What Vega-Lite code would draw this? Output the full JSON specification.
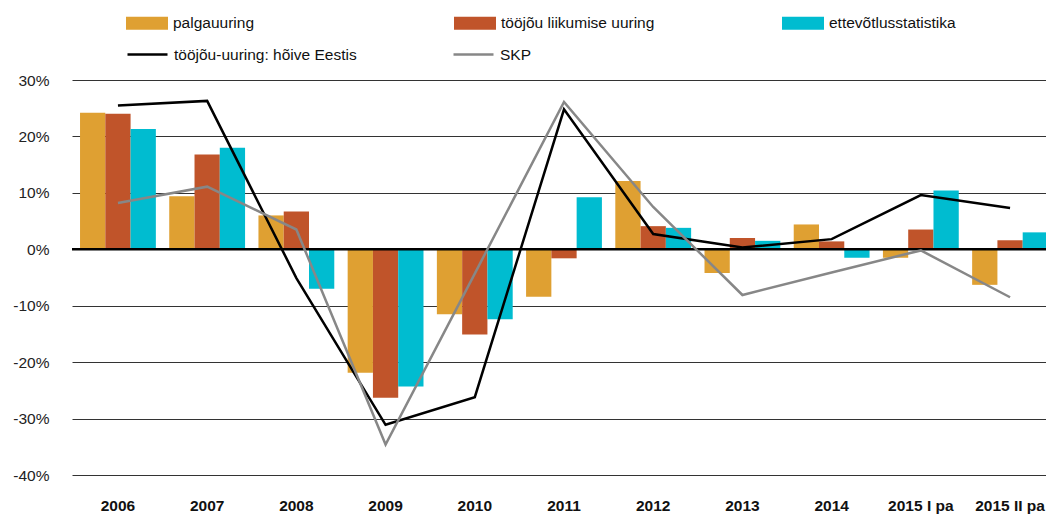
{
  "$schema": "https://vega.github.io/schema/vega-lite/v6.json",
  "autosize": {"type": "none"},
  "width": 974,
  "height": 395,
  "padding": {"left": 72, "top": 80, "right": 0, "bottom": 39},
  "background": "white",
  "config": {"view": {"stroke": null}, "font": "Liberation Sans"},
  "datasets": {
    "bars": [
      {"period": "2006", "series": "palgauuring", "value": 24.2},
      {"period": "2006", "series": "tööjõu liikumise uuring", "value": 24.0},
      {"period": "2006", "series": "ettevõtlusstatistika", "value": 21.3},
      {"period": "2007", "series": "palgauuring", "value": 9.4},
      {"period": "2007", "series": "tööjõu liikumise uuring", "value": 16.8},
      {"period": "2007", "series": "ettevõtlusstatistika", "value": 18.0},
      {"period": "2008", "series": "palgauuring", "value": 6.0},
      {"period": "2008", "series": "tööjõu liikumise uuring", "value": 6.7},
      {"period": "2008", "series": "ettevõtlusstatistika", "value": -7.0},
      {"period": "2009", "series": "palgauuring", "value": -21.9},
      {"period": "2009", "series": "tööjõu liikumise uuring", "value": -26.3},
      {"period": "2009", "series": "ettevõtlusstatistika", "value": -24.3},
      {"period": "2010", "series": "palgauuring", "value": -11.5},
      {"period": "2010", "series": "tööjõu liikumise uuring", "value": -15.1},
      {"period": "2010", "series": "ettevõtlusstatistika", "value": -12.4},
      {"period": "2011", "series": "palgauuring", "value": -8.4},
      {"period": "2011", "series": "tööjõu liikumise uuring", "value": -1.6},
      {"period": "2011", "series": "ettevõtlusstatistika", "value": 9.2},
      {"period": "2012", "series": "palgauuring", "value": 12.1},
      {"period": "2012", "series": "tööjõu liikumise uuring", "value": 4.1},
      {"period": "2012", "series": "ettevõtlusstatistika", "value": 3.8},
      {"period": "2013", "series": "palgauuring", "value": -4.2},
      {"period": "2013", "series": "tööjõu liikumise uuring", "value": 2.0},
      {"period": "2013", "series": "ettevõtlusstatistika", "value": 1.5},
      {"period": "2014", "series": "palgauuring", "value": 4.4},
      {"period": "2014", "series": "tööjõu liikumise uuring", "value": 1.4},
      {"period": "2014", "series": "ettevõtlusstatistika", "value": -1.5},
      {"period": "2015 I pa", "series": "palgauuring", "value": -1.5},
      {"period": "2015 I pa", "series": "tööjõu liikumise uuring", "value": 3.5},
      {"period": "2015 I pa", "series": "ettevõtlusstatistika", "value": 10.4},
      {"period": "2015 II pa", "series": "palgauuring", "value": -6.3},
      {"period": "2015 II pa", "series": "tööjõu liikumise uuring", "value": 1.6},
      {"period": "2015 II pa", "series": "ettevõtlusstatistika", "value": 3.0}
    ],
    "lines": [
      {"period": "2006", "series": "tööjõu-uuring: hõive Eestis", "value": 25.5},
      {"period": "2007", "series": "tööjõu-uuring: hõive Eestis", "value": 26.3},
      {"period": "2008", "series": "tööjõu-uuring: hõive Eestis", "value": -5.1},
      {"period": "2009", "series": "tööjõu-uuring: hõive Eestis", "value": -31.1},
      {"period": "2010", "series": "tööjõu-uuring: hõive Eestis", "value": -26.2},
      {"period": "2011", "series": "tööjõu-uuring: hõive Eestis", "value": 24.8},
      {"period": "2012", "series": "tööjõu-uuring: hõive Eestis", "value": 2.7},
      {"period": "2013", "series": "tööjõu-uuring: hõive Eestis", "value": 0.3},
      {"period": "2014", "series": "tööjõu-uuring: hõive Eestis", "value": 1.8},
      {"period": "2015 I pa", "series": "tööjõu-uuring: hõive Eestis", "value": 9.6},
      {"period": "2015 II pa", "series": "tööjõu-uuring: hõive Eestis", "value": 7.3},
      {"period": "2006", "series": "SKP", "value": 8.2},
      {"period": "2007", "series": "SKP", "value": 11.1},
      {"period": "2008", "series": "SKP", "value": 3.5},
      {"period": "2009", "series": "SKP", "value": -34.6},
      {"period": "2010", "series": "SKP", "value": -4.3},
      {"period": "2011", "series": "SKP", "value": 26.1},
      {"period": "2012", "series": "SKP", "value": 7.5},
      {"period": "2013", "series": "SKP", "value": -8.1},
      {"period": "2014", "series": "SKP", "value": -4.1},
      {"period": "2015 I pa", "series": "SKP", "value": -0.2},
      {"period": "2015 II pa", "series": "SKP", "value": -8.5}
    ],
    "zero": [{"v": 0}]
  },
  "layer": [
    {
      "data": {"name": "bars"},
      "mark": {"type": "bar"},
      "encoding": {
        "x": {
          "field": "period", "type": "nominal",
          "scale": {"range": [0, 984], "paddingInner": 0.15, "paddingOuter": 0.09},
          "axis": {"title": null, "labelAngle": 0, "ticks": false, "domain": false, "labelFontWeight": "bold", "labelFontSize": 15.5, "labelColor": "#111", "labelPadding": 23, "grid": false}
        },
        "xOffset": {
          "field": "series", "type": "nominal",
          "sort": ["palgauuring", "tööjõu liikumise uuring", "ettevõtlusstatistika"],
          "scale": {"paddingInner": 0, "paddingOuter": 0}
        },
        "y": {
          "field": "value", "type": "quantitative",
          "scale": {"domain": [-40, 30], "nice": false},
          "axis": {"title": null, "values": [-40, -30, -20, -10, 0, 10, 20, 30], "labelExpr": "datum.value + '%'", "ticks": false, "domain": false, "grid": true, "gridColor": "#333333", "gridWidth": 1, "labelFontSize": 15.5, "labelColor": "#222", "labelPadding": 23}
        },
        "color": {
          "field": "series", "type": "nominal",
          "scale": {"domain": ["palgauuring", "tööjõu liikumise uuring", "ettevõtlusstatistika"], "range": ["#DFA032", "#C0542A", "#00BCD0"]},
          "legend": {"title": null, "orient": "none", "legendX": 54, "legendY": -78, "direction": "horizontal", "columns": 3, "gridAlign": "all", "columnPadding": 127, "symbolType": "M-1,-0.31L1,-0.31L1,0.31L-1,0.31Z", "symbolSize": 1764, "symbolStrokeWidth": 0, "symbolOpacity": 1, "labelFontSize": 15.5, "labelColor": "#111", "labelOffset": 5, "labelLimit": 400, "padding": 0}
        }
      }
    },
    {
      "data": {"name": "zero"},
      "mark": {"type": "rule", "color": "black", "strokeWidth": 2.5},
      "encoding": {"y": {"field": "v", "type": "quantitative"}}
    },
    {
      "data": {"name": "lines"},
      "mark": {"type": "line", "strokeWidth": 2.5},
      "encoding": {
        "x": {"field": "period", "type": "nominal", "bandPosition": 0.5},
        "y": {"field": "value", "type": "quantitative"},
        "color": {
          "field": "series", "type": "nominal",
          "scale": {"domain": ["tööjõu-uuring: hõive Eestis", "SKP"], "range": ["#000000", "#878787"]},
          "legend": {"title": null, "orient": "none", "legendX": 54, "legendY": -47, "direction": "horizontal", "columns": 2, "columnPadding": 91, "symbolType": "stroke", "symbolSize": 1600, "symbolStrokeWidth": 2.5, "labelFontSize": 15.5, "labelColor": "#111", "labelOffset": 5, "labelLimit": 400, "padding": 0}
        }
      }
    }
  ],
  "resolve": {"scale": {"color": "independent"}}
}
